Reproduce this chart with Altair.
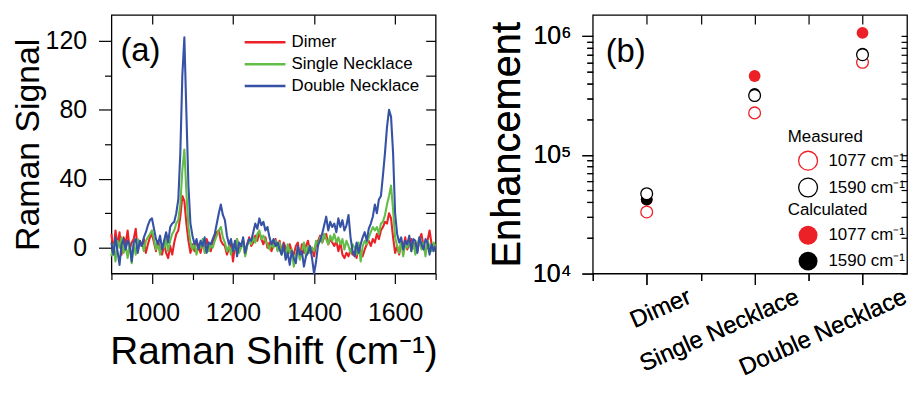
import altair as alt
import pandas as pd

FONT = "Liberation Sans"

# ---------------- Panel (a): Raman spectra ----------------
shift = list(range(900, 1705, 5))  # Raman shift grid, cm^-1

dimer = [
    8, -3, 10, 1, 9, -4, 6, 2, 10, -1,
    3, 5, 11, -2, 4, 1, 5, -3, 2, 6,
    8, 3, -2, 4, -1, -4, 2, -3, -6, 1,
    -4, 3, 8, 10, 18, 30, 27, 14, 4, -3,
    2, -2, 4, 0, -3, 3, -1, 5, 1, -2,
    3, 6, 9, 10, 4, 2, 1, -4, 0, 3,
    -8, 2, 5, -2, 1, 4, -4, 2, 6, 1,
    3, 7, 4, 9, 5, 2, 6, 0, 3, -2,
    2, 5, -1, 4, -3, 3, 0, -5, 2, -2,
    -4, 1, 3, -6, 2, -3, 1, 4, -2, 0,
    -5, 2, 4, 7, 3, 6, 8, 2, 5, 3,
    1, 4, -2, 3, -4, -6, -3, -5, -1, -4,
    -2, -6, 1, -3, -5, -1, 2, 4, 1, 5,
    3, 8, 5, 10, 12, 15, 14, 20, 17, 6,
    -3, 1, -4, 3, 0, 6, -1, 2, 5, 0,
    3, -2, 5, 8, 1, -3, 4, 10, 2, -1,
    2,
]

single_necklace = [
    -5, 2, -8, 4, 0, 6, -3, 1, -6, 3,
    -9, 2, -4, 5, 1, 3, -2, 4, 6, 8,
    10, 5, -1, 3, -4, 2, 0, 5, -2, 4,
    8, 10, 14, 16, 25, 45, 57, 32, 12, 3,
    -1, 3, -4, 2, 0, 5, -3, 1, -2, 2,
    0, 4, 7, 10, 12, 6, 3, -2, 1, -4,
    2, -1, 5, -3, 0, 3, -5, 1, 4, 2,
    6, 3, 8, 10, 5, 7, 4, 2, -1, 3,
    0, 4, -2, 3, -4, 1, -6, 2, -3, -1,
    -11, -4, 0, -7, -2, 3, -5, 1, -3, 0,
    -2, 4, 1, 6, 3, 8, 5, 2, 7, 4,
    8, 3, 6, 2, 5, -1, 4, 1, -3, 2,
    0, -4, 3, -8, 1, 4, 2, 6, 9, 12,
    10, 12, 8, 14, 15, 19, 25, 30, 36, 22,
    6, 1, -3, 4, -5, 2, 0, 5, -2, 3,
    -4, 2, 6, -1, 3, -5, 4, 1, -2, 3,
    0,
]

double_necklace = [
    3, -4, 6, -2, -10, 2, 5, -1, 4, 2,
    -8, 3, 5, -3, 4, 1, 6, 9, 13, 16,
    17, 11, 5, 2, 7, -1, 4, 9, 3, 12,
    14, 15, 20, 28, 55, 100, 122, 78, 36, 14,
    7, 2, 5, -1, 4, 1, 6, -3, 3, 2,
    5, 8, 14, 20, 25, 19, 16, 7, 2, 5,
    -2, 4, -5, 3, 1, 6, -3, 2, 5, 4,
    9, 14, 11, 17, 13, 15, 10, 12, 6, 2,
    5, 1, 3, -1, -4, 2, -7, -3, -10, -2,
    -6, -9, 1, -4, -2, -11, -5, -3, 1, -6,
    -15, -8, 2, 4, 8, 13, 18, 10, 15, 12,
    14, 9, 17, 12, 16, 10, 13, 19, 6, -2,
    -5, 3, -3, 2, 6, 9, 4, 11, 14, 18,
    25, 20, 28, 30, 42, 55, 70, 80, 76, 55,
    20, 8, 3, 6, -1, 4, 2, 7, -2, 5,
    4, -3, 6, 2, -1, 5, 3, -4, 2, -2,
    1,
]

series_names = ["Dimer", "Single Necklace", "Double Necklace"]
series_colors = ["#ec2027", "#62bd46", "#3552a5"]
series_values = [dimer, single_necklace, double_necklace]

rows = []
for name, vals in zip(series_names, series_values):
    for s, v in zip(shift, vals):
        rows.append({"shift": s, "signal": v, "series": name})
spectra = pd.DataFrame(rows)

x_ticks_a = list(range(900, 1701, 100))
y_ticks_a = list(range(0, 121, 20))

x_scale_a = alt.Scale(domain=[900, 1700], nice=False, zero=False)
y_scale_a = alt.Scale(domain=[-15, 135], nice=False, zero=False)

bottom_axis_a = alt.Axis(
    orient="bottom", values=x_ticks_a, format="d",
    labelExpr="datum.value % 200 === 0 ? datum.label : ''",
    tickSize={"condition": {"test": "datum.value % 200 === 0", "value": 10}, "value": 6},
    labelFontSize=25, labelPadding=17, labelFlush=False, labelOverlap=False,
    title="Raman Shift (cm⁻¹)", titleFontSize=39, titlePadding=7,
)
left_axis_a = alt.Axis(
    orient="left", values=y_ticks_a, format="d",
    labelExpr="datum.value % 40 === 0 ? datum.label : ''",
    tickSize={"condition": {"test": "datum.value % 40 === 0", "value": 13}, "value": 7},
    labelFontSize=25, labelPadding=12, labelFlush=False, labelOverlap=False,
    title="Raman Signal", titleFontSize=34, titlePadding=0,
)
top_axis_a = alt.Axis(orient="top", values=[1000, 1200, 1400, 1600], labels=False,
                      tickSize={"expr": "-9"}, title=None, minExtent=0, maxExtent=0)
right_axis_a = alt.Axis(orient="right", values=y_ticks_a, labels=False,
                        tickSize={"expr": "-10"}, title=None, minExtent=0, maxExtent=0)

lines_a = alt.Chart(spectra).mark_line(strokeWidth=2.1, strokeJoin="round").encode(
    x=alt.X("shift:Q", scale=x_scale_a, axis=bottom_axis_a),
    y=alt.Y("signal:Q", scale=y_scale_a, axis=left_axis_a),
    color=alt.Color(
        "series:N",
        scale=alt.Scale(domain=series_names, range=series_colors),
        legend=alt.Legend(
            orient="none", legendX=143, legendY=16, title=None,
            symbolType="M-2,0H2", symbolSize=420, symbolStrokeWidth=2.5,
            labelFontSize=17, labelOffset=15, rowPadding=2, padding=0,
        ),
    ),
)
mirror_a = alt.Chart(spectra).mark_line(opacity=0).encode(
    x=alt.X("shift:Q", scale=x_scale_a, axis=top_axis_a),
    y=alt.Y("signal:Q", scale=y_scale_a, axis=right_axis_a),
)
tag_a = alt.Chart(pd.DataFrame({"tag": ["(a)"]})).mark_text(
    fontSize=33, align="left", baseline="middle", color="black"
).encode(x=alt.value(9), y=alt.value(36), text="tag:N")

W_A = 326
GAP = 158
panel_a = alt.layer(lines_a, mirror_a, tag_a).properties(width=W_A, height=260)

# ---------------- Panel (b): enhancement ----------------
categories = ["Dimer", "Single Necklace", "Double Necklace"]
cat_pos = [1, 2, 3]
bands_measured = ["1077 cm⁻¹", "1590 cm⁻¹"]
bands_calculated = ["1077 cm⁻¹ ", "1590 cm⁻¹ "]
band_colors = ["#ec2027", "#000000"]

measured_1077 = [3.3e4, 2.25e5, 6.0e5]
measured_1590 = [4.7e4, 3.15e5, 6.95e5]
calculated_1077 = [4.2e4, 4.6e5, 1.06e6]
calculated_1590 = [4.2e4, 3.25e5, 7.1e5]

meas_rows = []
for band, vals in zip(bands_measured, [measured_1077, measured_1590]):
    for p, v in zip(cat_pos, vals):
        meas_rows.append({"pos": p, "value": v, "meas": band})
meas_df = pd.DataFrame(meas_rows)

calc_rows = []
for band, vals in zip(bands_calculated, [calculated_1077, calculated_1590]):
    for p, v in zip(cat_pos, vals):
        calc_rows.append({"pos": p, "value": v, "calc": band})
calc_df = pd.DataFrame(calc_rows)

cat_expr = "".join(f"datum.value === {p} ? '{c}' : " for p, c in zip(cat_pos, categories)) + "''"

log_ticks = [m * 10 ** e for e in (4, 5) for m in range(1, 10)] + [10 ** 6]
major_test = "datum.value === 10000 || datum.value === 100000 || datum.value === 1000000"
log_label_expr = ("datum.value === 10000 ? '10⁴' : datum.value === 100000 ? '10⁵' : "
                  "datum.value === 1000000 ? '10⁶' : ''")

W_B = 316
x_scale_b = alt.Scale(domain=[0.5, 0.5 + W_B / 108.5], nice=False, zero=False)
y_scale_b = alt.Scale(type="log", domain=[1e4, 1.5e6], nice=False)

bottom_axis_b = alt.Axis(
    orient="bottom", values=[0.5, 1, 1.5, 2, 2.5, 3], labelExpr=cat_expr,
    tickSize={"condition": {"test": "datum.value % 1 === 0", "value": 11}, "value": 7},
    labelAngle=336, labelAlign="right", labelBaseline="top", labelOffset=38,
    labelPadding=0, labelFontSize=24, labelFlush=False, labelOverlap=False,
    labelLimit=400, title=None,
)
left_axis_b = alt.Axis(
    orient="left", values=log_ticks, labelExpr=log_label_expr,
    tickSize={"condition": {"test": major_test, "value": 11}, "value": 6},
    labelFontSize=25, labelPadding=11, labelFlush=False, labelOverlap=False,
    title="Enhancement", titleFontSize=40, titlePadding=5,
)
top_axis_b = alt.Axis(orient="top", values=[1, 1.5, 2, 2.5, 3], labels=False,
                      tickSize={"expr": "-9"}, title=None, minExtent=0, maxExtent=0)
right_axis_b = alt.Axis(orient="right", values=log_ticks, labels=False,
                        tickSize={"expr": "-6"}, title=None, minExtent=0, maxExtent=0)

# legends of a concatenated chart are placed relative to the first panel
LEG_X = W_A + GAP + 196

calc_layer = alt.Chart(calc_df).mark_point(
    shape="circle", filled=True, size=140, opacity=1
).encode(
    x=alt.X("pos:Q", scale=x_scale_b, axis=bottom_axis_b),
    y=alt.Y("value:Q", scale=y_scale_b, axis=left_axis_b),
    fill=alt.Fill(
        "calc:N", scale=alt.Scale(domain=bands_calculated, range=band_colors),
        legend=alt.Legend(
            title="Calculated", orient="none", legendX=LEG_X, legendY=188,
            titleFontSize=17, titlePadding=6, labelFontSize=17,
            symbolType="circle", symbolSize=360, symbolOffset=10, labelOffset=10,
            rowPadding=6, padding=0,
        ),
    ),
)
meas_layer = alt.Chart(meas_df).mark_point(
    shape="circle", filled=False, fill="white", fillOpacity=1, size=140,
    strokeWidth=1.3, opacity=1
).encode(
    x=alt.X("pos:Q", scale=x_scale_b, axis=bottom_axis_b),
    y=alt.Y("value:Q", scale=y_scale_b, axis=left_axis_b),
    stroke=alt.Stroke(
        "meas:N", scale=alt.Scale(domain=bands_measured, range=band_colors),
        legend=alt.Legend(
            title="Measured", orient="none", legendX=LEG_X, legendY=115,
            titleFontSize=17, titlePadding=4, labelFontSize=17,
            symbolType="circle", symbolSize=360, symbolStrokeWidth=1.3,
            symbolFillColor="white", symbolOffset=10, labelOffset=10,
            rowPadding=2, padding=0,
        ),
    ),
)
mirror_b = alt.Chart(meas_df).mark_point(opacity=0).encode(
    x=alt.X("pos:Q", scale=x_scale_b, axis=top_axis_b),
    y=alt.Y("value:Q", scale=y_scale_b, axis=right_axis_b),
)
tag_b = alt.Chart(pd.DataFrame({"tag": ["(b)"]})).mark_text(
    fontSize=33, align="left", baseline="middle", color="black"
).encode(x=alt.value(13), y=alt.value(37), text="tag:N")

panel_b = alt.layer(calc_layer, meas_layer, mirror_b, tag_b).properties(width=W_B, height=260)

chart = alt.hconcat(panel_a, panel_b, spacing=GAP, bounds="flush").properties(
    padding={"left": 2, "top": 4, "right": 0, "bottom": 0}
).configure_view(
    stroke="black", strokeWidth=1.3
).configure_axis(
    labelFont=FONT, titleFont=FONT, labelColor="black", titleColor="black",
    tickColor="black", tickWidth=1.2, grid=False, domain=False, titleFontWeight="normal",
).configure_legend(
    labelFont=FONT, titleFont=FONT, labelColor="black", titleColor="black",
    titleFontWeight="normal",
).configure_text(font=FONT)

chart.save("out.html", embed_options={"renderer": "svg", "actions": False})
